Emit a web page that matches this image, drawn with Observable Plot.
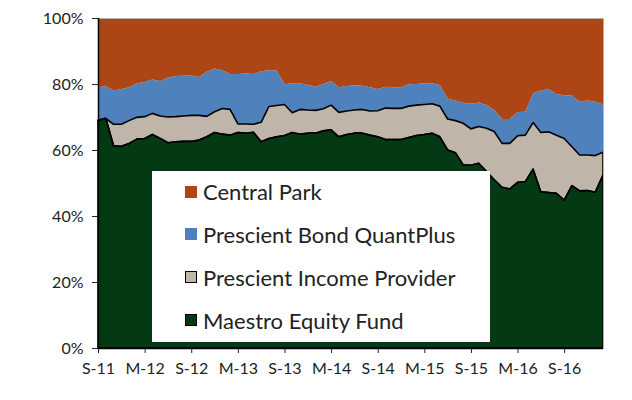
<!DOCTYPE html>
<html>
<head>
<meta charset="utf-8">
<script src="https://cdn.jsdelivr.net/npm/d3@7"></script>
<script src="https://cdn.jsdelivr.net/npm/@observablehq/plot@0.6"></script>
<style>
  html, body { margin: 0; padding: 0; background: #fff; }
  #wrap { position: relative; width: 632px; height: 400px; font-family: Lato, "Open Sans", sans-serif; }
  #legend { position: absolute; left: 152px; top: 171px; width: 338px; height: 171px; background: #fff; }
  .row { position: absolute; left: 33px; display: flex; align-items: center; height: 24px; color: #222; font-size: 22px; }
  .sw { width: 12px; height: 12px; margin-right: 6px; box-sizing: border-box; }
</style>
</head>
<body>
<div id="wrap"></div>
<script>
// Month index 0 = Sep 2011 ... 65 = Feb 2017
const xTickIdx = [0, 6, 12, 18, 24, 30, 36, 42, 48, 54, 60];
const xTickLabels = ["S-11", "M-12", "S-12", "M-13", "S-13", "M-14", "S-14", "M-15", "S-15", "M-16", "S-16"];
const yTicks = [0, 0.2, 0.4, 0.6, 0.8, 1];

const funds = ["Maestro Equity Fund", "Prescient Income Provider", "Prescient Bond QuantPlus", "Central Park"];
const fundColors = ["#033a14", "#bfb5a9", "#4f81bd", "#ad4614"];
const legendOrder = ["Central Park", "Prescient Bond QuantPlus", "Prescient Income Provider", "Maestro Equity Fund"];

const maestro = [68.9,69.6,61.3,61.1,62.0,63.3,63.5,64.7,63.5,62.2,62.5,62.6,62.6,63.0,64.0,65.3,64.8,64.5,65.3,65.1,65.4,62.5,63.5,64.0,64.4,65.3,64.8,65.1,65.1,65.8,66.1,64.0,64.7,65.1,65.1,64.5,64.0,63.2,63.2,63.2,63.8,64.4,64.7,65.1,64.0,60.0,59.2,55.5,55.4,56.0,53.5,51.0,48.7,48.2,50.2,50.4,54.2,47.3,47.1,46.9,44.8,49.2,47.6,47.7,47.2,52.4];
const income = [0.2,0.0,6.5,6.7,6.9,6.6,6.6,6.4,6.8,7.8,7.6,7.7,7.9,7.5,6.2,6.3,7.8,7.8,2.6,2.8,2.4,5.9,9.7,9.5,9.4,6.0,7.5,7.0,6.9,6.7,7.5,7.4,7.1,7.0,7.2,7.3,7.9,9.5,9.4,9.4,9.5,9.2,9.1,8.9,9.3,9.4,9.7,12.6,11.0,11.1,13.1,14.6,13.3,13.8,14.1,14.1,14.1,18.0,18.4,17.6,18.7,11.8,10.9,10.8,11.1,6.9];
const bond = [9.9,9.7,10.2,10.6,10.1,10.3,10.5,10.3,10.6,11.9,12.3,12.2,12.1,11.6,13.5,13.1,11.6,10.7,15.1,15.3,15.2,15.5,11.0,10.7,6.1,8.9,7.9,7.6,7.2,7.5,7.3,7.6,7.6,7.5,7.2,7.2,6.6,6.5,6.4,6.4,6.6,6.4,6.4,6.2,6.4,6.1,6.1,6.2,7.6,7.3,7.0,6.5,7.4,7.4,7.2,7.1,8.9,12.7,12.9,12.5,13.1,15.5,16.1,16.5,16.3,14.5];
const centralPark = [21.0,20.7,22.0,21.6,21.0,19.8,19.4,18.6,19.1,18.1,17.6,17.5,17.4,17.9,16.3,15.3,15.8,17.0,17.0,16.8,17.0,16.1,15.8,15.8,20.1,19.8,19.8,20.3,20.8,20.0,19.1,21.0,20.6,20.4,20.5,21.0,21.5,20.8,21.0,21.0,20.1,20.0,19.8,19.8,20.3,24.5,25.0,25.7,26.0,25.6,26.4,27.9,30.6,30.6,28.5,28.4,22.8,22.0,21.6,23.0,23.4,23.5,25.4,25.0,25.4,26.2];

const seriesValues = [maestro, income, bond, centralPark];
const data = [];
funds.forEach((f, k) => seriesValues[k].forEach((v, i) => data.push({i, fund: f, value: v})));
const bottomTwo = data.filter(d => d.fund === funds[0] || d.fund === funds[1]);

const plot = Plot.plot({
  width: 632,
  height: 400,
  marginLeft: 98,
  marginRight: 29,
  marginTop: 18,
  marginBottom: 52,
  style: {fontFamily: "Lato, 'Open Sans', sans-serif", fontSize: "16px", color: "#222", background: "#fff"},
  x: {domain: [0, 65], ticks: xTickIdx, tickFormat: (d) => xTickLabels[xTickIdx.indexOf(d)], tickSize: 5, tickPadding: 9, label: null},
  y: {domain: [0, 1], ticks: yTicks, tickFormat: d3.format(".0%"), tickSize: 6, tickPadding: 9, label: null},
  color: {domain: funds, range: fundColors},
  marks: [
    Plot.areaY(data, Plot.stackY({x: "i", y: "value", z: "fund", fill: "fund", order: funds, offset: "normalize"})),
    Plot.areaY(bottomTwo, Plot.stackY({x: "i", y: (d) => d.value / 100, z: "fund", fill: "none", stroke: "#000", strokeWidth: 1.6, strokeLinejoin: "round", order: funds})),
    Plot.frame({stroke: "#b3b3b3"}),
    Plot.ruleX([0], {stroke: "#000", strokeWidth: 1.5}),
    Plot.ruleY([0], {stroke: "#000", strokeWidth: 1.5})
  ]
});

const wrap = document.getElementById("wrap");
wrap.appendChild(plot);

const legend = document.createElement("div");
legend.id = "legend";
const rowTops = [8.7, 51.3, 94.3, 137];
legendOrder.forEach((name, k) => {
  const row = document.createElement("div");
  row.className = "row";
  row.style.top = rowTops[k] + "px";
  const sw = document.createElement("div");
  sw.className = "sw";
  sw.style.background = fundColors[funds.indexOf(name)];
  if (name === funds[0] || name === funds[1]) sw.style.border = "1.5px solid #000";
  const t = document.createElement("span");
  t.textContent = name;
  row.appendChild(sw);
  row.appendChild(t);
  legend.appendChild(row);
});
wrap.appendChild(legend);
</script>
</body>
</html>
